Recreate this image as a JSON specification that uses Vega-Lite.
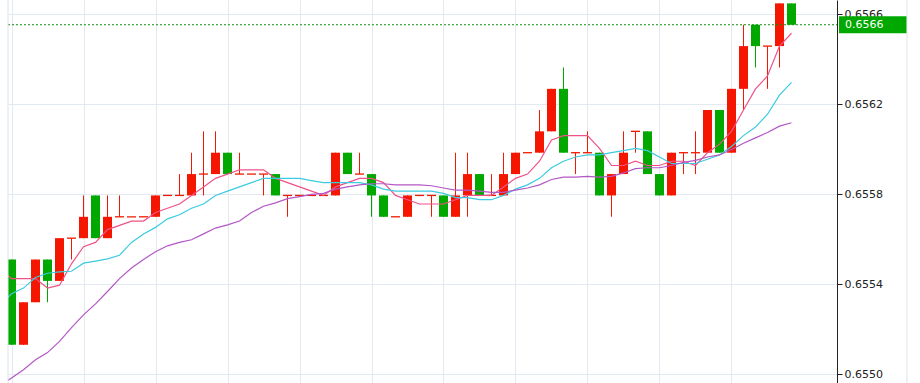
{
"$schema": "https://vega.github.io/schema/vega-lite/v6.json",
"width": 829, "height": 383,
"autosize": {"type": "none"},
"padding": {"left": 8, "top": 0, "right": 83, "bottom": 0},
"background": "white",
"config": {"view": {"stroke": null}, "scale": {"continuousPadding": 0}},
"data": {"values": [
{"i":-1,"m5":0.655472,"m10":0.655301,"m20":0.65495},
{"i":0,"o":0.65551,"h":0.65551,"l":0.655131,"c":0.655131,"m5":0.655425,"m10":0.655358,"m20":0.654983},
{"i":1,"o":0.655131,"h":0.65532,"l":0.655131,"c":0.65532,"m5":0.655425,"m10":0.655383,"m20":0.65502},
{"i":2,"o":0.65532,"h":0.65551,"l":0.65532,"c":0.65551,"m5":0.655425,"m10":0.65543,"m20":0.655064},
{"i":3,"o":0.65551,"h":0.65551,"l":0.65532,"c":0.655415,"m5":0.655383,"m10":0.655449,"m20":0.655096},
{"i":4,"o":0.655415,"h":0.655605,"l":0.655415,"c":0.655605,"m5":0.655396,"m10":0.655455,"m20":0.655146},
{"i":5,"o":0.655605,"h":0.655605,"l":0.65551,"c":0.655605,"m5":0.655491,"m10":0.655458,"m20":0.655207},
{"i":6,"o":0.655605,"h":0.655795,"l":0.655605,"c":0.6557,"m5":0.655567,"m10":0.655494,"m20":0.655264},
{"i":7,"o":0.655795,"h":0.655795,"l":0.655605,"c":0.655605,"m5":0.655586,"m10":0.655503,"m20":0.655313},
{"i":8,"o":0.655605,"h":0.655795,"l":0.655605,"c":0.6557,"m5":0.655643,"m10":0.655513,"m20":0.655368},
{"i":9,"o":0.6557,"h":0.655795,"l":0.6557,"c":0.6557,"m5":0.655662,"m10":0.655529,"m20":0.655425},
{"i":10,"o":0.6557,"h":0.6557,"l":0.6557,"c":0.6557,"m5":0.655681,"m10":0.655586,"m20":0.655472},
{"i":11,"o":0.6557,"h":0.6557,"l":0.6557,"c":0.6557,"m5":0.655681,"m10":0.655624,"m20":0.65551},
{"i":12,"o":0.6557,"h":0.655795,"l":0.6557,"c":0.655795,"m5":0.655719,"m10":0.655653,"m20":0.655545},
{"i":13,"o":0.655795,"h":0.655795,"l":0.655795,"c":0.655795,"m5":0.655738,"m10":0.655691,"m20":0.655571},
{"i":14,"o":0.655795,"h":0.65589,"l":0.655795,"c":0.655795,"m5":0.655757,"m10":0.655709,"m20":0.655586},
{"i":15,"o":0.655795,"h":0.655985,"l":0.655795,"c":0.65589,"m5":0.655795,"m10":0.655738,"m20":0.655598},
{"i":16,"o":0.65589,"h":0.65608,"l":0.655795,"c":0.65589,"m5":0.655833,"m10":0.655757,"m20":0.655624},
{"i":17,"o":0.65589,"h":0.65608,"l":0.65589,"c":0.655985,"m5":0.655871,"m10":0.655795,"m20":0.65565},
{"i":18,"o":0.655985,"h":0.655985,"l":0.65589,"c":0.65589,"m5":0.65589,"m10":0.655814,"m20":0.655664},
{"i":19,"o":0.65589,"h":0.655985,"l":0.65589,"c":0.65589,"m5":0.655909,"m10":0.655833,"m20":0.655681},
{"i":20,"o":0.65589,"h":0.65589,"l":0.65589,"c":0.65589,"m5":0.655909,"m10":0.655852,"m20":0.655719},
{"i":21,"o":0.65589,"h":0.65589,"l":0.655795,"c":0.65589,"m5":0.655909,"m10":0.655871,"m20":0.655747},
{"i":22,"o":0.65589,"h":0.65589,"l":0.655795,"c":0.655795,"m5":0.655871,"m10":0.655871,"m20":0.655762},
{"i":23,"o":0.655795,"h":0.655795,"l":0.6557,"c":0.655795,"m5":0.655852,"m10":0.655871,"m20":0.655781},
{"i":24,"o":0.655795,"h":0.655795,"l":0.655795,"c":0.655795,"m5":0.655833,"m10":0.655871,"m20":0.65579},
{"i":25,"o":0.655795,"h":0.655795,"l":0.655795,"c":0.655795,"m5":0.655814,"m10":0.655861,"m20":0.6558},
{"i":26,"o":0.655795,"h":0.655795,"l":0.655795,"c":0.655795,"m5":0.655795,"m10":0.655852,"m20":0.655804},
{"i":27,"o":0.655795,"h":0.655985,"l":0.655795,"c":0.655985,"m5":0.655833,"m10":0.655852,"m20":0.655823},
{"i":28,"o":0.655985,"h":0.655985,"l":0.65589,"c":0.65589,"m5":0.655852,"m10":0.655852,"m20":0.655833},
{"i":29,"o":0.65589,"h":0.655985,"l":0.65589,"c":0.65589,"m5":0.655871,"m10":0.655852,"m20":0.655842},
{"i":30,"o":0.65589,"h":0.65589,"l":0.6557,"c":0.655795,"m5":0.655871,"m10":0.655842,"m20":0.655847},
{"i":31,"o":0.655795,"h":0.655795,"l":0.6557,"c":0.6557,"m5":0.655852,"m10":0.655823,"m20":0.655847},
{"i":32,"o":0.6557,"h":0.6557,"l":0.6557,"c":0.6557,"m5":0.655795,"m10":0.655814,"m20":0.655842},
{"i":33,"o":0.6557,"h":0.655795,"l":0.6557,"c":0.655795,"m5":0.655776,"m10":0.655814,"m20":0.655842},
{"i":34,"o":0.655795,"h":0.655795,"l":0.655795,"c":0.655795,"m5":0.655757,"m10":0.655814,"m20":0.655842},
{"i":35,"o":0.655795,"h":0.655795,"l":0.6557,"c":0.655795,"m5":0.655757,"m10":0.655814,"m20":0.655838},
{"i":36,"o":0.655795,"h":0.655795,"l":0.6557,"c":0.6557,"m5":0.655757,"m10":0.655804,"m20":0.655828},
{"i":37,"o":0.6557,"h":0.655985,"l":0.6557,"c":0.655795,"m5":0.655776,"m10":0.655785,"m20":0.655819},
{"i":38,"o":0.655795,"h":0.655985,"l":0.6557,"c":0.65589,"m5":0.655795,"m10":0.655785,"m20":0.655819},
{"i":39,"o":0.65589,"h":0.65589,"l":0.655795,"c":0.655795,"m5":0.655795,"m10":0.655776,"m20":0.655814},
{"i":40,"o":0.655795,"h":0.65589,"l":0.655795,"c":0.655795,"m5":0.655795,"m10":0.655776,"m20":0.655809},
{"i":41,"o":0.655795,"h":0.655985,"l":0.655795,"c":0.65589,"m5":0.655833,"m10":0.655795,"m20":0.655809},
{"i":42,"o":0.65589,"h":0.655985,"l":0.65589,"c":0.655985,"m5":0.655871,"m10":0.655823,"m20":0.655819},
{"i":43,"o":0.655985,"h":0.655985,"l":0.655985,"c":0.655985,"m5":0.65589,"m10":0.655842,"m20":0.655828},
{"i":44,"o":0.655985,"h":0.656175,"l":0.655985,"c":0.65608,"m5":0.655947,"m10":0.655871,"m20":0.655842},
{"i":45,"o":0.65608,"h":0.656269,"l":0.65608,"c":0.656269,"m5":0.656042,"m10":0.655918,"m20":0.655866},
{"i":46,"o":0.656269,"h":0.656364,"l":0.655985,"c":0.655985,"m5":0.656061,"m10":0.655947,"m20":0.655876},
{"i":47,"o":0.655985,"h":0.655985,"l":0.65589,"c":0.655985,"m5":0.656061,"m10":0.655966,"m20":0.655876},
{"i":48,"o":0.655985,"h":0.65608,"l":0.655985,"c":0.655985,"m5":0.656061,"m10":0.655975,"m20":0.65588},
{"i":49,"o":0.655985,"h":0.655985,"l":0.655795,"c":0.655795,"m5":0.656004,"m10":0.655975,"m20":0.655876},
{"i":50,"o":0.655795,"h":0.65589,"l":0.6557,"c":0.65589,"m5":0.655928,"m10":0.655985,"m20":0.65588},
{"i":51,"o":0.65589,"h":0.65608,"l":0.65589,"c":0.655985,"m5":0.655928,"m10":0.655994,"m20":0.655895},
{"i":52,"o":0.65608,"h":0.65608,"l":0.655985,"c":0.65608,"m5":0.655947,"m10":0.656004,"m20":0.655914},
{"i":53,"o":0.65608,"h":0.65608,"l":0.65589,"c":0.65589,"m5":0.655928,"m10":0.655994,"m20":0.655918},
{"i":54,"o":0.65589,"h":0.65589,"l":0.655795,"c":0.655795,"m5":0.655928,"m10":0.655966,"m20":0.655918},
{"i":55,"o":0.655795,"h":0.655985,"l":0.655795,"c":0.655985,"m5":0.655947,"m10":0.655937,"m20":0.655928},
{"i":56,"o":0.655985,"h":0.655985,"l":0.65589,"c":0.655985,"m5":0.655947,"m10":0.655937,"m20":0.655942},
{"i":57,"o":0.655985,"h":0.65608,"l":0.65589,"c":0.655985,"m5":0.655928,"m10":0.655937,"m20":0.655951},
{"i":58,"o":0.655985,"h":0.656175,"l":0.655985,"c":0.656175,"m5":0.655985,"m10":0.655956,"m20":0.655966},
{"i":59,"o":0.656175,"h":0.656175,"l":0.655985,"c":0.655985,"m5":0.656023,"m10":0.655975,"m20":0.655975},
{"i":60,"o":0.655985,"h":0.656269,"l":0.655985,"c":0.656269,"m5":0.65608,"m10":0.656013,"m20":0.655999},
{"i":61,"o":0.656269,"h":0.656554,"l":0.656175,"c":0.656459,"m5":0.656175,"m10":0.656061,"m20":0.656027},
{"i":62,"o":0.656554,"h":0.656554,"l":0.656364,"c":0.656459,"m5":0.656269,"m10":0.656099,"m20":0.656051},
{"i":63,"o":0.656459,"h":0.656459,"l":0.656269,"c":0.656459,"m5":0.656326,"m10":0.656156,"m20":0.656075},
{"i":64,"o":0.656459,"h":0.656649,"l":0.656364,"c":0.656649,"m5":0.656459,"m10":0.656241,"m20":0.656103},
{"i":65,"o":0.656649,"h":0.656649,"l":0.656554,"c":0.656554,"m5":0.656516,"m10":0.656298,"m20":0.656118}
]},
"encoding": {
  "x": {"field": "i", "type": "quantitative",
        "scale": {"domain": [-0.2917, 68.7917], "nice": false, "zero": false, "padding": 0},
        "axis": {"values": [0,6,12,18,24,30,36,42,48,54,60], "labels": false, "ticks": false, "domain": false, "title": null, "grid": true, "gridColor": "#e2e9f0", "gridWidth": 1}}
},
"layer": [
  {"transform": [{"filter": "isValid(datum.o)"}],
   "mark": {"type": "rule", "strokeWidth": 1, "clip": true},
   "encoding": {
     "y": {"field": "l", "type": "quantitative",
           "scale": {"domain": [0.654961, 0.656664], "nice": false, "zero": false, "padding": 0},
           "axis": {"orient": "right", "values": [0.655, 0.6554, 0.6558, 0.6562, 0.6566], "format": ".4f", "title": null,
                    "grid": true, "gridColor": "#e2e9f0", "domainColor": "#222222", "tickColor": "#222222", "tickSize": 5,
                    "labelColor": "#222222", "labelFont": "DejaVu Sans", "labelFontSize": 11, "labelPadding": 2}},
     "y2": {"field": "h"},
     "color": {"condition": {"test": "datum.c < datum.o", "value": "#00a600"}, "value": "#f21800"}
   }},
  {"transform": [{"filter": "isValid(datum.o) && datum.o != datum.c"}],
   "mark": {"type": "bar", "width": 9, "clip": true},
   "encoding": {
     "y": {"field": "o", "type": "quantitative", "scale": {"domain": [0.654961, 0.656664], "nice": false, "zero": false, "padding": 0}},
     "y2": {"field": "c"},
     "color": {"condition": {"test": "datum.c > datum.o", "value": "#f51600"}, "value": "#00a800"}
   }},
  {"transform": [{"filter": "isValid(datum.o) && datum.o == datum.c"}],
   "mark": {"type": "tick", "orient": "horizontal", "size": 9, "thickness": 1.3, "color": "#f21800", "opacity": 1, "clip": true},
   "encoding": {
     "y": {"field": "o", "type": "quantitative", "scale": {"domain": [0.654961, 0.656664], "nice": false, "zero": false, "padding": 0}}
   }},
  {"mark": {"type": "line", "color": "#ef5289", "strokeWidth": 1.2, "clip": true},
   "encoding": {"y": {"field": "m5", "type": "quantitative", "scale": {"domain": [0.654961, 0.656664], "nice": false, "zero": false, "padding": 0}}}},
  {"mark": {"type": "line", "color": "#3ccbe0", "strokeWidth": 1.2, "clip": true},
   "encoding": {"y": {"field": "m10", "type": "quantitative", "scale": {"domain": [0.654961, 0.656664], "nice": false, "zero": false, "padding": 0}}}},
  {"mark": {"type": "line", "color": "#b457c6", "strokeWidth": 1.2, "clip": true},
   "encoding": {"y": {"field": "m20", "type": "quantitative", "scale": {"domain": [0.654961, 0.656664], "nice": false, "zero": false, "padding": 0}}}},
  {"transform": [{"filter": "datum.i == 65"}],
   "mark": {"type": "rule", "color": "#0f8f0f", "strokeWidth": 1, "strokeDash": [2, 2]},
   "encoding": {"x": {"datum": -0.2917}, "x2": {"datum": 68.7917},
                "y": {"field": "c", "type": "quantitative", "scale": {"domain": [0.654961, 0.656664], "nice": false, "zero": false, "padding": 0}}}},
  {"transform": [{"filter": "datum.i == 65"}],
   "mark": {"type": "bar", "height": 17, "color": "#00a800", "clip": false},
   "encoding": {"x": {"datum": 68.96}, "x2": {"datum": 74.62},
                "y": {"field": "c", "type": "quantitative", "scale": {"domain": [0.654961, 0.656664], "nice": false, "zero": false, "padding": 0}}}},
  {"transform": [{"filter": "datum.i == 65"}],
   "mark": {"type": "text", "align": "left", "baseline": "middle", "color": "white", "font": "DejaVu Sans", "fontSize": 11, "clip": false},
   "encoding": {"x": {"datum": 69.45},
                "y": {"field": "c", "type": "quantitative", "scale": {"domain": [0.654961, 0.656664], "nice": false, "zero": false, "padding": 0}},
                "text": {"field": "c", "format": ".4f"}}},
  {"transform": [{"filter": "datum.i == 65"}],
   "mark": {"type": "rule", "color": "#dde4ea", "strokeWidth": 1, "clip": false},
   "encoding": {"x": {"datum": 74.62}}},
  {"transform": [{"filter": "datum.i == 65"}],
   "mark": {"type": "rule", "color": "#dde4ea", "strokeWidth": 1},
   "encoding": {"x": {"datum": -0.2917}}}
]
}
